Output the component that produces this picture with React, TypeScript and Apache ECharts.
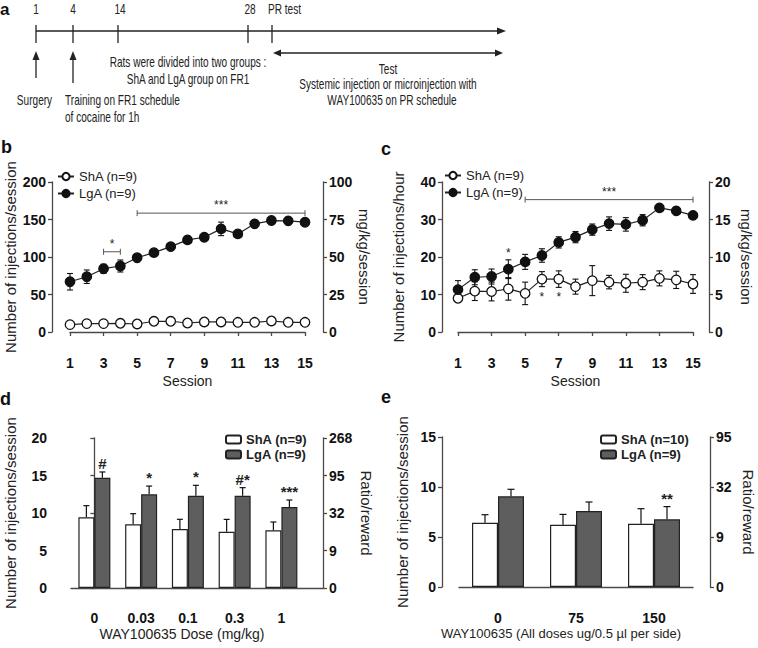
import React, { useEffect, useRef } from "react";
import * as echarts from "echarts";

const FONT = "'Liberation Sans', Arial, Helvetica, sans-serif";
const AX = "#4a4a4a";
const INK = "#111";

// ---------- data ----------
const sessions = [1, 2, 3, 4, 5, 6, 7, 8, 9, 10, 11, 12, 13, 14, 15];

const bShA = [9.8, 11.2, 11.2, 11.6, 10.7, 14.3, 14.3, 12.0, 13.4, 13.4, 12.9, 12.9, 14.7, 12.9, 12.9];
const bShAErr = [1, 1, 1, 1, 1, 1, 1, 1, 1, 1, 1, 1, 1, 1, 1];
const bLgA = [67, 73.7, 84.4, 88, 99, 105.8, 113.8, 122.8, 126.3, 137.5, 130.8, 144.2, 148.6, 148.2, 146.4];
const bLgAErr = [11, 9, 6, 8, 4, 3, 3, 3, 4, 9, 4, 3, 3, 3, 3];
const bBrackets = [
  { x1: 3, x2: 4, y: 107, label: "*" },
  { x1: 5, x2: 15, y: 158.5, label: "***" },
];

const cShA = [9.0, 10.9, 10.8, 11.5, 10.3, 14.1, 14.1, 12.1, 13.7, 13.3, 13.0, 13.3, 14.3, 13.9, 12.8];
const cShAErr = [0.8, 2.5, 2.5, 3.0, 3.0, 2.0, 2.2, 2.0, 4.0, 1.8, 2.4, 2.0, 2.0, 2.3, 2.5];
const cLgA = [11.3, 14.6, 14.8, 16.75, 18.7, 20.4, 23.9, 25.3, 27.3, 28.9, 28.7, 29.8, 33.1, 32.3, 31.1];
const cLgAErr = [2.4, 2.0, 2.0, 2.5, 2.0, 1.8, 1.5, 1.5, 1.5, 1.8, 1.8, 1.5, 0.5, 0.8, 0.8];
const cBrackets = [{ x1: 5, x2: 15, y: 35.3, label: "***" }];
const cStars = [
  { x: 4, y: 21.0, label: "*" },
  { x: 6, y: 9.4, label: "*" },
  { x: 7, y: 9.4, label: "*" },
];

const dDoses = ["0", "0.03", "0.1", "0.3", "1"];
const dShA = [9.42, 8.49, 7.87, 7.51, 7.69];
const dShAErr = [1.56, 1.42, 1.29, 1.64, 1.11];
const dLgA = [14.71, 12.49, 12.31, 12.31, 10.8];
const dLgAErr = [0.76, 1.1, 1.38, 1.07, 0.93];
const dMarks = ["#", "*", "*", "#*", "***"];
const dRightLabels = ["0", "9", "32", "95", "268"];

const eDoses = ["0", "75", "150"];
const eShA = [6.43, 6.23, 6.33];
const eShAErr = [0.8, 1.03, 1.5];
const eLgA = [9.07, 7.6, 6.77];
const eLgAErr = [0.7, 0.9, 1.27];
const eMarks = ["", "", "**"];
const eRightLabels = ["0", "9", "32", "95"];

// ---------- helpers ----------
const lineStyle = { color: AX, width: 1.3 };
const tickLabel = { fontSize: 14, fontWeight: "bold" as const, color: INK, fontFamily: FONT };
const titleStyle = { fontSize: 15, color: "#222", fontFamily: FONT };

function yAxisDef(gridIndex: number, pos: "left" | "right", max: number, interval: number, offset: number, name: string, nameGap: number, formatter?: (v: number) => string) {
  return {
    gridIndex,
    type: "value",
    position: pos,
    min: 0,
    max,
    interval,
    offset,
    axisLine: { show: true, lineStyle },
    axisTick: { show: true, length: 4, lineStyle },
    axisLabel: { ...tickLabel, margin: 6, formatter },
    splitLine: { show: false },
    name,
    nameLocation: "middle",
    nameRotate: pos === "left" ? 90 : -90,
    nameGap,
    nameTextStyle: titleStyle,
  };
}

function errLineSeries(xAxisIndex: number, yAxisIndex: number, vals: number[], errs: number[]) {
  return {
    type: "custom",
    xAxisIndex,
    yAxisIndex,
    silent: true,
    z: 1,
    encode: { x: 0, y: 1 },
    data: sessions.map((s, i) => [s, vals[i], errs[i]]),
    renderItem: (_p: any, api: any) => {
      const x = api.value(0), y = api.value(1), e = api.value(2);
      const t = api.coord([x, y + e]);
      const b = api.coord([x, y - e]);
      const st = { stroke: INK, lineWidth: 1.1 };
      return {
        type: "group",
        children: [
          { type: "line", shape: { x1: t[0], y1: t[1], x2: b[0], y2: b[1] }, style: st },
          { type: "line", shape: { x1: t[0] - 3, y1: t[1], x2: t[0] + 3, y2: t[1] }, style: st },
          { type: "line", shape: { x1: b[0] - 3, y1: b[1], x2: b[0] + 3, y2: b[1] }, style: st },
        ],
      };
    },
  };
}

function bracketSeries(xAxisIndex: number, yAxisIndex: number, brackets: { x1: number; x2: number; y: number; label: string }[]) {
  return {
    type: "custom",
    xAxisIndex,
    yAxisIndex,
    silent: true,
    z: 5,
    encode: { x: 0, y: 1 },
    data: brackets.map((b) => [b.x1, b.y]),
    renderItem: (p: any, api: any) => {
      const b = brackets[p.dataIndex];
      const p1 = api.coord([b.x1, b.y]);
      const p2 = api.coord([b.x2, b.y]);
      const st = { stroke: "#555", lineWidth: 1 };
      return {
        type: "group",
        children: [
          { type: "line", shape: { x1: p1[0], y1: p1[1], x2: p2[0], y2: p2[1] }, style: st },
          { type: "line", shape: { x1: p1[0], y1: p1[1] - 3, x2: p1[0], y2: p1[1] + 3 }, style: st },
          { type: "line", shape: { x1: p2[0], y1: p2[1] - 3, x2: p2[0], y2: p2[1] + 3 }, style: st },
          { type: "text", x: (p1[0] + p2[0]) / 2, y: p1[1] - 2, style: { text: b.label, align: "center", verticalAlign: "bottom", fontSize: 12, fill: "#222", fontFamily: FONT } },
        ],
      };
    },
  };
}

function starSeries(xAxisIndex: number, yAxisIndex: number, stars: { x: number; y: number; label: string }[]) {
  return {
    type: "custom",
    xAxisIndex,
    yAxisIndex,
    silent: true,
    z: 5,
    encode: { x: 0, y: 1 },
    data: stars.map((s) => [s.x, s.y]),
    renderItem: (p: any, api: any) => {
      const c = api.coord([api.value(0), api.value(1)]);
      return { type: "text", x: c[0], y: c[1], style: { text: stars[p.dataIndex].label, align: "center", verticalAlign: "middle", fontSize: 12, fill: "#222", fontFamily: FONT } };
    },
  };
}

function lineSeries(name: string, xAxisIndex: number, yAxisIndex: number, vals: number[], filled: boolean) {
  return {
    type: "line",
    name,
    xAxisIndex,
    yAxisIndex,
    z: 3,
    data: sessions.map((s, i) => [s, vals[i]]),
    symbol: "circle",
    symbolSize: 9.5,
    showAllSymbol: true,
    lineStyle: { color: "#222", width: 1.2 },
    itemStyle: { color: filled ? INK : "#fff", borderColor: INK, borderWidth: 1.3 },
  };
}

function barSeries(name: string, xAxisIndex: number, yAxisIndex: number, data: any[], filled: boolean, width: number) {
  return {
    type: "bar",
    name,
    xAxisIndex,
    yAxisIndex,
    z: 2,
    data,
    barWidth: width,
    barGap: "0%",
    itemStyle: { color: filled ? "#5e5e5e" : "#fff", borderColor: "#222", borderWidth: 1.2 },
  };
}

function barErrSeries(xAxisIndex: number, yAxisIndex: number, vals: number[], errs: number[], off: number, cap: number) {
  return {
    type: "custom",
    xAxisIndex,
    yAxisIndex,
    silent: true,
    z: 4,
    encode: { x: 0, y: 1 },
    data: vals.map((v, i) => [i, v, errs[i]]),
    renderItem: (_p: any, api: any) => {
      const x = api.value(0), y = api.value(1), e = api.value(2);
      const c = api.coord([x, y]);
      const t = api.coord([x, y + e]);
      const px = c[0] + off;
      const st = { stroke: INK, lineWidth: 1.2 };
      return {
        type: "group",
        children: [
          { type: "line", shape: { x1: px, y1: c[1], x2: px, y2: t[1] }, style: st },
          { type: "line", shape: { x1: px - cap, y1: t[1], x2: px + cap, y2: t[1] }, style: st },
        ],
      };
    },
  };
}

function barMarkSeries(xAxisIndex: number, yAxisIndex: number, vals: number[], errs: number[], marks: string[], off: number) {
  return {
    type: "custom",
    xAxisIndex,
    yAxisIndex,
    silent: true,
    z: 5,
    encode: { x: 0, y: 1 },
    data: vals.map((v, i) => [i, v + errs[i]]),
    renderItem: (p: any, api: any) => {
      const c = api.coord([api.value(0), api.value(1)]);
      return { type: "text", x: c[0] + off, y: c[1] - 1, style: { text: marks[p.dataIndex], align: "center", verticalAlign: "bottom", fontSize: 15, fontWeight: "bold", fill: "#222", fontFamily: FONT } };
    },
  };
}

// ---------- panel a (schematic) ----------
const SX = 0.72;
function aText(text: string, x: number, y: number, align: string) {
  return { type: "text", x, y, scaleX: SX, style: { text, fontSize: 14, fill: "#222", fontFamily: FONT, align, verticalAlign: "middle" } };
}
function aLine(x1: number, y1: number, x2: number, y2: number) {
  return { type: "line", shape: { x1, y1, x2, y2 }, style: { stroke: "#222", lineWidth: 1.3 } };
}
function aHead(points: number[][]) {
  return { type: "polygon", shape: { points }, style: { fill: "#222" } };
}
const timelineDays = ["1", "4", "14", "28"];
const timelineX = [36, 73, 118, 248, 272];

function panelA() {
  const els: any[] = [];
  els.push({ type: "text", x: 0, y: 1, style: { text: "a", fontSize: 17, fontWeight: "bold", fill: INK, fontFamily: FONT, align: "left", verticalAlign: "top" } });
  timelineDays.forEach((d, i) => els.push(aText(d, timelineX[i] + (d.length > 1 ? 2 : 0), 9, "center")));
  els.push(aText("PR test", 268, 9, "left"));
  els.push(aLine(36, 31, 499, 31));
  els.push(aHead([[506, 31], [497, 27.5], [497, 34.5]]));
  timelineX.forEach((x) => els.push(aLine(x, 25, x, 43)));
  els.push(aLine(36, 78, 36, 58));
  els.push(aHead([[36, 51], [32.5, 60], [39.5, 60]]));
  els.push(aLine(73, 83, 73, 58));
  els.push(aHead([[73, 51], [69.5, 60], [76.5, 60]]));
  els.push(aLine(279, 53, 497, 53));
  els.push(aHead([[273, 53], [281, 49.5], [281, 56.5]]));
  els.push(aHead([[503, 53], [495, 49.5], [495, 56.5]]));
  els.push(aText("Surgery", 34.5, 100, "center"));
  els.push(aText("Training on FR1 schedule", 65, 100, "left"));
  els.push(aText("of cocaine for 1h", 65, 117, "left"));
  els.push(aText("Rats were divided into two groups :", 188, 62, "center"));
  els.push(aText("ShA and LgA group on FR1", 188, 79, "center"));
  els.push(aText("Test", 388, 69, "center"));
  els.push(aText("Systemic injection or microinjection with", 388, 84, "center"));
  els.push(aText("WAY100635 on PR schedule", 392, 100, "center"));
  const lab = (t: string, x: number, y: number) => ({ type: "text", x, y, style: { text: t, fontSize: 18, fontWeight: "bold", fill: INK, fontFamily: FONT, align: "left", verticalAlign: "middle" } });
  els.push(lab("b", 1, 147), lab("c", 381, 149), lab("d", 0, 399), lab("e", 381, 397));
  return els;
}

function buildOption() {
  const legendText = { fontSize: 13, color: "#222", fontFamily: FONT };
  const strip = (n: string) => n.split("|")[0];
  return {
    animation: false,
    backgroundColor: "#fff",
    textStyle: { fontFamily: FONT },
    graphic: panelA(),
    grid: [
      { left: 70, top: 182, width: 235, height: 150 },
      { left: 458, top: 182, width: 235, height: 150 },
      { left: 71, top: 438, width: 252, height: 150 },
      { left: 459, top: 437, width: 234, height: 150 },
    ],
    legend: [
      { left: 52, top: 165, orient: "vertical", itemWidth: 16, itemHeight: 9, itemGap: 4, selectedMode: false, data: ["ShA (n=9)|b", "LgA (n=9)|b"], formatter: strip, textStyle: legendText },
      { left: 439, top: 164, orient: "vertical", itemWidth: 16, itemHeight: 9, itemGap: 4, selectedMode: false, data: ["ShA (n=9)|c", "LgA (n=9)|c"], formatter: strip, textStyle: legendText },
      { left: 220, top: 428, orient: "vertical", itemWidth: 15, itemHeight: 8, itemGap: 2, selectedMode: false, data: ["ShA (n=9)|d", "LgA (n=9)|d"], formatter: strip, textStyle: { ...legendText, fontWeight: "bold" } },
      { left: 595, top: 428, orient: "vertical", itemWidth: 15, itemHeight: 8, itemGap: 2, selectedMode: false, data: ["ShA (n=10)|e", "LgA (n=9)|e"], formatter: strip, textStyle: { ...legendText, fontWeight: "bold" } },
    ],
    xAxis: [
      {
        gridIndex: 0, type: "value", min: 1, max: 15, interval: 2, offset: 17,
        axisLine: { show: true, lineStyle }, axisTick: { show: true, length: 4, lineStyle },
        axisLabel: { ...tickLabel, margin: 7 }, splitLine: { show: false },
        name: "Session", nameLocation: "middle", nameGap: 25, nameTextStyle: { fontSize: 14, color: "#222", fontFamily: FONT },
      },
      {
        gridIndex: 1, type: "value", min: 1, max: 15, interval: 2, offset: 17,
        axisLine: { show: true, lineStyle }, axisTick: { show: true, length: 4, lineStyle },
        axisLabel: { ...tickLabel, margin: 7 }, splitLine: { show: false },
        name: "Session", nameLocation: "middle", nameGap: 25, nameTextStyle: { fontSize: 14, color: "#222", fontFamily: FONT },
      },
      {
        gridIndex: 2, type: "value", min: -0.5, max: 4.89, offset: 16,
        axisLine: { show: true, lineStyle }, axisTick: { show: false },
        axisLabel: { ...tickLabel, margin: 7, customValues: [0, 1, 2, 3, 4], formatter: (v: number) => dDoses[Math.round(v)] ?? "" },
        splitLine: { show: false },
        name: "WAY100635 Dose (mg/kg)", nameLocation: "middle", nameGap: 23,
        nameTextStyle: { fontSize: 14, color: "#222", fontFamily: FONT, padding: [0, 30, 0, 0] },
      },
      {
        gridIndex: 3, type: "category", data: eDoses, offset: 17,
        axisLine: { show: true, lineStyle }, axisTick: { show: false },
        axisLabel: { ...tickLabel, margin: 7 }, splitLine: { show: false },
        name: "WAY100635 (All doses ug/0.5 µl per side)", nameLocation: "middle", nameGap: 23,
        nameTextStyle: { fontSize: 13, color: "#222", fontFamily: FONT, padding: [0, 30, 0, 0] },
      },
    ],
    yAxis: [
      yAxisDef(0, "left", 200, 50, 18, "Number of injections/session", 34),
      yAxisDef(0, "right", 100, 25, 18, "mg/kg/session", 34),
      yAxisDef(1, "left", 40, 10, 16, "Number of injections/hour", 36),
      yAxisDef(1, "right", 20, 5, 16, "mg/kg/session", 30),
      yAxisDef(2, "left", 20, 5, 18, "Number of injections/session", 35),
      yAxisDef(2, "right", 20, 5, 0, "Ratio/reward", 36, (v: number) => dRightLabels[Math.round(v / 5)]),
      yAxisDef(3, "left", 15, 5, 17, "Number of injections/session", 32),
      yAxisDef(3, "right", 15, 5, 17, "Ratio/reward", 31, (v: number) => eRightLabels[Math.round(v / 5)]),
    ],
    series: [
      errLineSeries(0, 0, bShA, bShAErr),
      errLineSeries(0, 0, bLgA, bLgAErr),
      lineSeries("ShA (n=9)|b", 0, 0, bShA, false),
      lineSeries("LgA (n=9)|b", 0, 0, bLgA, true),
      bracketSeries(0, 0, bBrackets),

      errLineSeries(1, 2, cShA, cShAErr),
      errLineSeries(1, 2, cLgA, cLgAErr),
      lineSeries("ShA (n=9)|c", 1, 2, cShA, false),
      lineSeries("LgA (n=9)|c", 1, 2, cLgA, true),
      bracketSeries(1, 2, cBrackets),
      starSeries(1, 2, cStars),

      barSeries("ShA (n=9)|d", 2, 4, dShA.map((v, i) => [i, v]), false, 16),
      barSeries("LgA (n=9)|d", 2, 4, dLgA.map((v, i) => [i, v]), true, 16),
      barErrSeries(2, 4, dShA, dShAErr, -8, 3),
      barErrSeries(2, 4, dLgA, dLgAErr, 8, 3),
      barMarkSeries(2, 4, dLgA, dLgAErr, dMarks, 8),

      barSeries("ShA (n=10)|e", 3, 6, eShA, false, 26),
      barSeries("LgA (n=9)|e", 3, 6, eLgA, true, 26),
      barErrSeries(3, 6, eShA, eShAErr, -13, 3.5),
      barErrSeries(3, 6, eLgA, eLgAErr, 13, 3.5),
      barMarkSeries(3, 6, eLgA, eLgAErr, eMarks, 13),
    ],
  };
}

export default function App() {
  const ref = useRef<HTMLDivElement>(null);
  useEffect(() => {
    const chart = echarts.init(ref.current!, undefined, { renderer: "svg" });
    chart.setOption(buildOption() as any);
    return () => chart.dispose();
  }, []);
  return <div ref={ref} style={{ position: "fixed", left: 0, top: 0, width: 758, height: 648, background: "#fff" }} />;
}
